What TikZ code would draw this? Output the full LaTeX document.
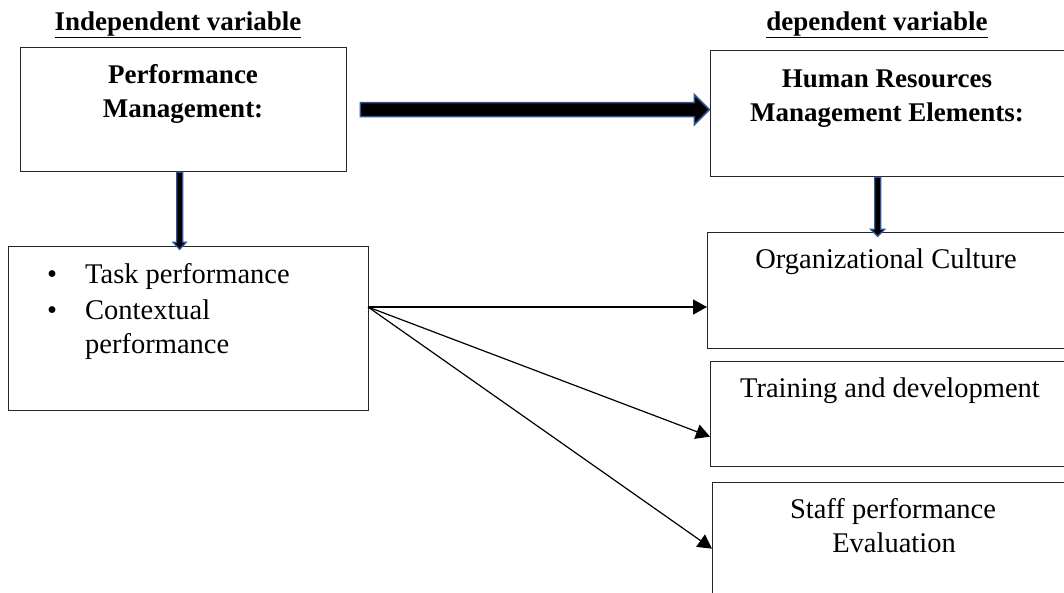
\documentclass[tikz,border=0pt]{standalone}
\usepackage{fontspec}
\setmainfont{Liberation Serif}
\usetikzlibrary{arrows.meta,calc}
\definecolor{arrowblue}{RGB}{47,85,151}
\begin{document}
\begin{tikzpicture}[x=1pt,y=-1pt,
  box/.style={draw=black!85,line width=1.3pt,anchor=north west,inner sep=0pt},
  txt/.style={anchor=base,inner sep=0pt,font=\fontsize{28.5}{34}\selectfont},
  btxt/.style={anchor=base,inner sep=0pt,font=\fontsize{27}{34}\selectfont\bfseries},
  fat/.style={fill=black,draw=arrowblue,line width=1.6pt,line join=miter},
  link/.style={draw=black,line width=1.2pt,-{Triangle[length=14pt,width=15pt]}}
]
\useasboundingbox (0,0) rectangle (1064,592);
\clip (0,0) rectangle (1064,592);
% boxes
\node[box,minimum width=326pt,minimum height=124pt] (pm) at (20,47) {};
\node[box,minimum width=360pt,minimum height=126pt] (hrm) at (710,50) {};
\node[box,minimum width=360pt,minimum height=164pt] (lst) at (8,246) {};
\node[box,minimum width=363pt,minimum height=116pt] (oc) at (707,232) {};
\node[box,minimum width=360pt,minimum height=105pt] (td) at (710,361) {};
\node[box,minimum width=358pt,minimum height=118pt] (sp) at (712,482) {};
% texts
\node[btxt] (iv) at (178,30) {\underline{Independent variable}};
\node[btxt] (dv) at (877,30) {\underline{dependent variable}};
\node[btxt] (pm1) at (183,83) {Performance};
\node[btxt] (pm2) at (183,117) {Management:};
\node[btxt] (hr1) at (887,87) {Human Resources};
\node[btxt] (hr2) at (887,121) {Management Elements:};
\node[txt] (b1) at (52,283) {\textbullet};
\node[txt] (b2) at (52,319) {\textbullet};
\node[txt,anchor=base west] (l1) at (85,283) {Task performance};
\node[txt,anchor=base west] (l2) at (85,319) {Contextual};
\node[txt,anchor=base west] (l3) at (85,353) {performance};
\node[txt] (oc1) at (886,268) {Organizational Culture};
\node[txt] (td1) at (890,397) {Training and development};
\node[txt] (sp1) at (893,518) {Staff performance};
\node[txt] (sp2) at (894,552) {Evaluation};
% thick arrows
\draw[fat] ([xshift=13pt]pm.east) ++(0,-7) -- ++(334,0) -- ++(0,-8) -- ++(15,15) -- ++(-15,15) -- ++(0,-8) -- ++(-334,0) -- cycle;
\draw[fat,line width=1.3pt] ([xshift=-4pt]pm.south) ++(-3,0) -- ++(0,70) -- ++(-3.5,0) -- ++(6.5,7) -- ++(6.5,-7) -- ++(-3.5,0) -- ++(0,-70) -- cycle;
\draw[fat,line width=1.3pt] ([xshift=-13pt]hrm.south) ++(-3,0) -- ++(0,52) -- ++(-4,0) -- ++(7,7) -- ++(7,-7) -- ++(-4,0) -- ++(0,-52) -- cycle;
% thin arrows
\coordinate (o) at (368,307);
\draw[link] (o) -- (oc.west |- o);
\draw[link] (o) -- ([yshift=-22.5pt]td.west);
\draw[link] (o) -- ([yshift=-7pt]sp.west);
\end{tikzpicture}
\end{document}
